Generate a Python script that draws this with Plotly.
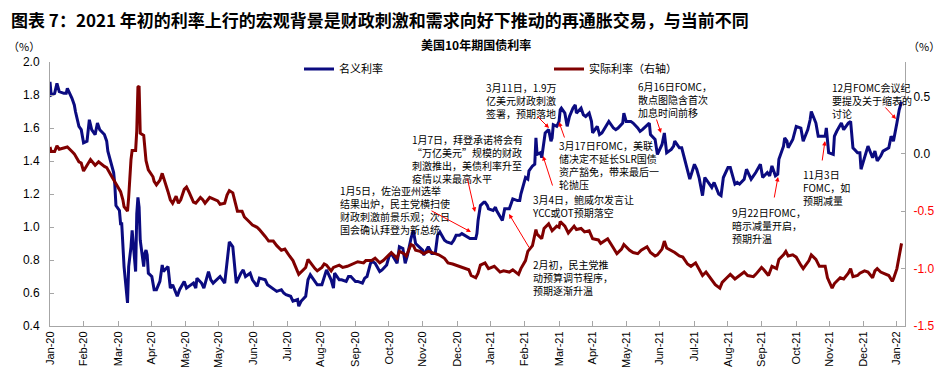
import plotly.graph_objects as go
from datetime import date, timedelta

# ---------------- data ----------------
nominal_dates = [
    "2020-01-02","2020-01-03","2020-01-06","2020-01-08","2020-01-10","2020-01-14","2020-01-16","2020-01-17",
    "2020-01-21","2020-01-23","2020-01-24","2020-01-27","2020-01-29","2020-01-31","2020-02-03","2020-02-05",
    "2020-02-07","2020-02-10","2020-02-12","2020-02-14","2020-02-18","2020-02-20","2020-02-21","2020-02-24",
    "2020-02-26","2020-02-27","2020-02-28","2020-03-02","2020-03-03","2020-03-04","2020-03-05","2020-03-06",
    "2020-03-09","2020-03-10","2020-03-11","2020-03-12","2020-03-13","2020-03-16","2020-03-17","2020-03-18",
    "2020-03-19","2020-03-20","2020-03-23","2020-03-24","2020-03-25","2020-03-26","2020-03-27","2020-03-30",
    "2020-04-01","2020-04-03","2020-04-06","2020-04-08","2020-04-09","2020-04-13","2020-04-15","2020-04-17",
    "2020-04-21","2020-04-23","2020-04-27","2020-04-29","2020-05-01","2020-05-05","2020-05-07","2020-05-08",
    "2020-05-12","2020-05-14","2020-05-18","2020-05-20","2020-05-22","2020-05-26","2020-05-28","2020-06-01",
    "2020-06-03","2020-06-05","2020-06-08","2020-06-10","2020-06-11","2020-06-15","2020-06-17","2020-06-19",
    "2020-06-23","2020-06-25","2020-06-29","2020-07-01","2020-07-06","2020-07-08","2020-07-10","2020-07-14",
    "2020-07-16","2020-07-20","2020-07-22","2020-07-24","2020-07-28","2020-07-30","2020-08-03","2020-08-04",
    "2020-08-06","2020-08-10","2020-08-12","2020-08-14","2020-08-18","2020-08-20","2020-08-24","2020-08-26",
    "2020-08-28","2020-09-01","2020-09-03","2020-09-04","2020-09-08","2020-09-10","2020-09-14","2020-09-16",
    "2020-09-18","2020-09-22","2020-09-24","2020-09-28","2020-09-30","2020-10-02","2020-10-05","2020-10-07",
    "2020-10-09","2020-10-13","2020-10-15","2020-10-19","2020-10-21","2020-10-23","2020-10-26","2020-10-28",
    "2020-10-30","2020-11-02","2020-11-04","2020-11-06","2020-11-09","2020-11-11","2020-11-13","2020-11-17",
    "2020-11-19","2020-11-20","2020-11-24","2020-11-27","2020-11-30","2020-12-02","2020-12-04","2020-12-08",
    "2020-12-10","2020-12-14","2020-12-16","2020-12-18","2020-12-21","2020-12-23","2020-12-28","2020-12-30",
    "2021-01-04","2021-01-05","2021-01-06","2021-01-07","2021-01-08","2021-01-11","2021-01-12","2021-01-14",
    "2021-01-15","2021-01-19","2021-01-21","2021-01-22","2021-01-26","2021-01-27","2021-01-29","2021-02-02",
    "2021-02-04","2021-02-05","2021-02-09","2021-02-11","2021-02-12","2021-02-16","2021-02-18","2021-02-19",
    "2021-02-22","2021-02-24","2021-02-25","2021-02-26","2021-03-01","2021-03-02","2021-03-03","2021-03-04",
    "2021-03-05","2021-03-08","2021-03-10","2021-03-11","2021-03-12","2021-03-15","2021-03-17","2021-03-18",
    "2021-03-19","2021-03-22","2021-03-24","2021-03-26","2021-03-29","2021-03-31","2021-04-01","2021-04-05",
    "2021-04-07","2021-04-09","2021-04-12","2021-04-14","2021-04-15","2021-04-19","2021-04-21","2021-04-23",
    "2021-04-27","2021-04-29","2021-05-03","2021-05-05","2021-05-07","2021-05-11","2021-05-12","2021-05-14",
    "2021-05-18","2021-05-20","2021-05-24","2021-05-26","2021-05-28","2021-06-01","2021-06-03","2021-06-04",
    "2021-06-08","2021-06-10","2021-06-14","2021-06-16","2021-06-18","2021-06-22","2021-06-24","2021-06-25",
    "2021-06-29","2021-07-01","2021-07-06","2021-07-08","2021-07-12","2021-07-14","2021-07-16","2021-07-19",
    "2021-07-21","2021-07-23","2021-07-27","2021-07-29","2021-08-02","2021-08-04","2021-08-06","2021-08-10",
    "2021-08-12","2021-08-16","2021-08-18","2021-08-20","2021-08-24","2021-08-26","2021-08-30","2021-09-01",
    "2021-09-03","2021-09-07","2021-09-09","2021-09-13","2021-09-15","2021-09-17","2021-09-20","2021-09-22",
    "2021-09-23","2021-09-27","2021-09-28","2021-09-30","2021-10-01","2021-10-05","2021-10-08","2021-10-12",
    "2021-10-14","2021-10-18","2021-10-20","2021-10-21","2021-10-25","2021-10-27","2021-10-29","2021-11-02",
    "2021-11-03","2021-11-05","2021-11-09","2021-11-10","2021-11-12","2021-11-16","2021-11-18","2021-11-22",
    "2021-11-24","2021-11-26","2021-11-30","2021-12-02","2021-12-03","2021-12-07","2021-12-09","2021-12-13",
    "2021-12-15","2021-12-17","2021-12-20","2021-12-22","2021-12-27","2021-12-29","2021-12-31","2022-01-03",
    "2022-01-05","2022-01-07",
]
nominal_values = [
    1.88,1.80,1.81,1.87,1.82,1.81,1.81,1.84,
    1.78,1.74,1.70,1.61,1.59,1.51,1.52,1.65,
    1.59,1.56,1.63,1.59,1.56,1.52,1.46,1.38,
    1.33,1.26,1.13,1.10,1.02,1.02,0.92,0.76,
    0.54,0.76,0.82,0.88,0.98,0.73,1.08,1.18,
    1.12,0.92,0.76,0.84,0.86,0.83,0.72,0.70,
    0.62,0.62,0.67,0.77,0.73,0.76,0.63,0.65,
    0.58,0.62,0.67,0.63,0.64,0.66,0.63,0.69,
    0.66,0.63,0.73,0.68,0.66,0.69,0.70,0.66,
    0.77,0.91,0.88,0.75,0.66,0.72,0.74,0.70,
    0.72,0.68,0.64,0.69,0.68,0.65,0.64,0.62,
    0.61,0.62,0.60,0.59,0.58,0.55,0.56,0.52,
    0.55,0.58,0.68,0.71,0.67,0.65,0.65,0.69,
    0.74,0.68,0.63,0.72,0.68,0.68,0.67,0.70,
    0.70,0.67,0.67,0.66,0.69,0.70,0.78,0.79,
    0.78,0.73,0.74,0.77,0.82,0.84,0.80,0.78,
    0.88,0.87,0.78,0.83,0.93,0.98,0.90,0.87,
    0.86,0.83,0.88,0.84,0.84,0.95,0.97,0.92,
    0.91,0.90,0.92,0.95,0.95,0.96,0.94,0.93,
    0.93,0.96,1.04,1.08,1.13,1.15,1.15,1.13,
    1.11,1.10,1.12,1.10,1.05,1.04,1.11,1.11,
    1.15,1.17,1.16,1.16,1.20,1.30,1.29,1.34,
    1.37,1.38,1.54,1.44,1.45,1.42,1.47,1.54,
    1.57,1.59,1.52,1.54,1.62,1.61,1.64,1.71,
    1.72,1.69,1.61,1.67,1.72,1.74,1.69,1.72,
    1.68,1.67,1.69,1.64,1.57,1.61,1.56,1.57,
    1.62,1.64,1.60,1.59,1.60,1.63,1.69,1.64,
    1.64,1.63,1.60,1.58,1.59,1.62,1.63,1.56,
    1.53,1.44,1.50,1.57,1.45,1.47,1.49,1.52,
    1.48,1.48,1.35,1.29,1.38,1.35,1.30,1.19,
    1.30,1.28,1.24,1.27,1.20,1.19,1.30,1.36,
    1.36,1.26,1.27,1.26,1.29,1.35,1.29,1.31,
    1.33,1.38,1.30,1.33,1.31,1.37,1.31,1.32,
    1.41,1.49,1.54,1.52,1.48,1.53,1.61,1.60,
    1.52,1.59,1.65,1.70,1.63,1.55,1.55,1.55,
    1.60,1.45,1.44,1.55,1.58,1.63,1.59,1.63,
    1.64,1.48,1.45,1.45,1.35,1.44,1.49,1.42,
    1.46,1.40,1.43,1.46,1.48,1.55,1.52,1.63,
    1.71,1.76,
]

real_dates = [
    "2020-01-02","2020-01-03","2020-01-06","2020-01-08","2020-01-10","2020-01-14","2020-01-17","2020-01-21",
    "2020-01-23","2020-01-27","2020-01-29","2020-01-31","2020-02-04","2020-02-06","2020-02-10","2020-02-13",
    "2020-02-18","2020-02-20","2020-02-24","2020-02-26","2020-02-28","2020-03-03","2020-03-05","2020-03-06",
    "2020-03-09","2020-03-10","2020-03-11","2020-03-12","2020-03-13","2020-03-16","2020-03-17","2020-03-18",
    "2020-03-19","2020-03-20","2020-03-23","2020-03-24","2020-03-25","2020-03-27","2020-03-31","2020-04-01",
    "2020-04-03","2020-04-06","2020-04-08","2020-04-13","2020-04-15","2020-04-17","2020-04-20","2020-04-22",
    "2020-04-24","2020-04-27","2020-04-29","2020-05-01","2020-05-05","2020-05-07","2020-05-11","2020-05-13",
    "2020-05-15","2020-05-19","2020-05-21","2020-05-26","2020-05-28","2020-06-01","2020-06-03","2020-06-05",
    "2020-06-08","2020-06-10","2020-06-12","2020-06-16","2020-06-18","2020-06-22","2020-06-25","2020-06-29",
    "2020-07-01","2020-07-06","2020-07-09","2020-07-13","2020-07-16","2020-07-20","2020-07-23","2020-07-27",
    "2020-07-30","2020-08-04","2020-08-06","2020-08-10","2020-08-12","2020-08-14","2020-08-18","2020-08-20",
    "2020-08-24","2020-08-26","2020-08-28","2020-09-01","2020-09-03","2020-09-08","2020-09-11","2020-09-15",
    "2020-09-17","2020-09-22","2020-09-24","2020-09-29","2020-10-01","2020-10-06","2020-10-09","2020-10-13",
    "2020-10-16","2020-10-21","2020-10-23","2020-10-28","2020-10-30","2020-11-03","2020-11-05","2020-11-09",
    "2020-11-11","2020-11-13","2020-11-17","2020-11-20","2020-11-24","2020-11-30","2020-12-03","2020-12-08",
    "2020-12-11","2020-12-15","2020-12-18","2020-12-22","2020-12-29","2020-12-31","2021-01-04","2021-01-06",
    "2021-01-08","2021-01-12","2021-01-15","2021-01-20","2021-01-25","2021-01-28","2021-02-02","2021-02-05",
    "2021-02-10","2021-02-12","2021-02-16","2021-02-18","2021-02-22","2021-02-25","2021-02-26","2021-03-02",
    "2021-03-04","2021-03-08","2021-03-11","2021-03-15","2021-03-17","2021-03-18","2021-03-22","2021-03-25",
    "2021-03-30","2021-04-01","2021-04-05","2021-04-08","2021-04-12","2021-04-15","2021-04-20","2021-04-22",
    "2021-04-26","2021-04-28","2021-05-03","2021-05-06","2021-05-10","2021-05-12","2021-05-17","2021-05-20",
    "2021-05-24","2021-05-27","2021-06-01","2021-06-04","2021-06-08","2021-06-10","2021-06-14","2021-06-16",
    "2021-06-18","2021-06-22","2021-06-25","2021-06-29","2021-07-02","2021-07-06","2021-07-09","2021-07-13",
    "2021-07-16","2021-07-19","2021-07-22","2021-07-27","2021-07-30","2021-08-03","2021-08-05","2021-08-09",
    "2021-08-12","2021-08-16","2021-08-19","2021-08-24","2021-08-27","2021-09-01","2021-09-03","2021-09-08",
    "2021-09-10","2021-09-14","2021-09-17","2021-09-21","2021-09-23","2021-09-27","2021-09-29","2021-10-01",
    "2021-10-05","2021-10-08","2021-10-12","2021-10-14","2021-10-19","2021-10-21","2021-10-25","2021-10-28",
    "2021-11-02","2021-11-04","2021-11-08","2021-11-10","2021-11-15","2021-11-18","2021-11-22","2021-11-24",
    "2021-11-26","2021-11-30","2021-12-02","2021-12-06","2021-12-09","2021-12-13","2021-12-15","2021-12-17",
    "2021-12-20","2021-12-23","2021-12-27","2021-12-30","2021-12-31","2022-01-03","2022-01-05","2022-01-07",
]
real_values = [
    0.06,0.02,0.02,0.07,0.04,0.05,0.06,0.02,
    0.00,-0.07,-0.08,-0.15,-0.08,-0.05,-0.10,-0.07,
    -0.11,-0.12,-0.19,-0.22,-0.26,-0.33,-0.40,-0.46,
    -0.50,-0.38,-0.20,-0.05,0.03,0.03,0.20,0.58,
    0.59,0.18,0.16,0.07,-0.06,-0.14,-0.20,-0.24,
    -0.27,-0.23,-0.17,-0.33,-0.40,-0.43,-0.37,-0.43,
    -0.40,-0.31,-0.29,-0.33,-0.42,-0.43,-0.38,-0.40,
    -0.43,-0.38,-0.39,-0.41,-0.44,-0.43,-0.36,-0.32,
    -0.34,-0.43,-0.50,-0.50,-0.55,-0.59,-0.62,-0.64,
    -0.66,-0.72,-0.76,-0.76,-0.80,-0.84,-0.83,-0.89,
    -0.93,-1.05,-1.03,-0.99,-0.92,-0.95,-1.00,-1.02,
    -0.99,-0.96,-0.97,-1.02,-0.99,-0.97,-0.99,-0.98,
    -0.97,-0.95,-0.94,-0.95,-0.93,-0.93,-0.91,-0.95,
    -0.93,-0.88,-0.86,-0.91,-0.85,-0.87,-0.89,-0.79,
    -0.80,-0.84,-0.85,-0.87,-0.85,-0.87,-0.88,-0.91,
    -0.95,-0.96,-0.97,-0.99,-1.01,-1.06,-1.08,-1.04,
    -0.97,-0.95,-1.00,-0.98,-1.03,-1.02,-1.03,-1.01,
    -1.05,-1.00,-0.93,-0.85,-0.80,-0.66,-0.70,-0.74,
    -0.65,-0.61,-0.67,-0.63,-0.64,-0.59,-0.63,-0.69,
    -0.63,-0.66,-0.65,-0.68,-0.67,-0.74,-0.75,-0.78,
    -0.75,-0.74,-0.82,-0.87,-0.83,-0.79,-0.84,-0.86,
    -0.87,-0.84,-0.81,-0.86,-0.89,-0.88,-0.83,-0.76,
    -0.82,-0.84,-0.86,-0.89,-0.90,-0.96,-0.98,-0.95,
    -1.01,-1.06,-1.03,-1.10,-1.14,-1.17,-1.12,-1.08,
    -1.05,-1.09,-1.07,-1.03,-1.06,-1.07,-1.05,-0.99,
    -1.01,-1.06,-0.98,-1.00,-0.92,-0.88,-0.85,-0.89,
    -0.88,-0.90,-0.97,-1.00,-0.93,-0.88,-0.92,-0.98,
    -0.98,-1.08,-1.17,-1.13,-1.08,-1.09,-1.04,-1.00,
    -1.07,-1.06,-1.04,-1.02,-1.03,-1.08,-1.02,-1.00,
    -1.03,-1.04,-1.06,-1.11,-1.09,-1.00,-0.88,-0.78,
]

x_tick_labels = [
    "Jan-20","Feb-20","Mar-20","Apr-20","May-20","May-20","Jun-20","Jul-20","Aug-20",
    "Sep-20","Oct-20","Nov-20","Dec-20","Jan-21","Feb-21","Mar-21","Apr-21","May-21",
    "Jun-21","Jul-21","Aug-21","Sep-21","Oct-21","Nov-21","Dec-21","Jan-22",
]
left_ticks = [0.4, 0.6, 0.8, 1.0, 1.2, 1.4, 1.6, 1.8, 2.0]
right_ticks = [0.5, 0.0, -0.5, -1.0, -1.5]

series_names = ["名义利率", "实际利率（右轴）"]
chart_title = "美国10年期国债利率"
main_title = "图表 7：2021 年初的利率上行的宏观背景是财政刺激和需求向好下推动的再通胀交易，与当前不同"

notes = [
    "1月5日，佐治亚州选举<br>结果出炉，民主党横扫使<br>财政刺激前景乐观；次日<br>国会确认拜登为新总统",
    "1月7日，拜登承诺将会有<br>“万亿美元”规模的财政<br>刺激推出，美债利率升至<br>疫情以来最高水平",
    "3月11日，1.9万<br>亿美元财政刺激<br>签署，预期落地",
    "3月17日FOMC，美联<br>储决定不延长SLR国债<br>资产豁免，带来最后一<br>轮抛压",
    "3月4日，鲍威尔发言让<br>YCC或OT预期落空",
    "2月初，民主党推<br>动预算调节程序，<br>预期逐渐升温",
    "6月16日FOMC，<br>散点图隐含首次<br>加息时间前移",
    "9月22日FOMC，<br>暗示减量开启，<br>预期升温",
    "11月3日<br>FOMC，如<br>预期减量",
    "12月FOMC会议纪<br>要提及关于缩表的<br>讨论",
]

# ---------------- layout geometry (page pixels) ----------------
PAGE_W, PAGE_H = 943, 380
OFF = 8                        # default page margin around the plot div
W, H = PAGE_W - OFF, PAGE_H - OFF
PL, PR, PT, PB = 50, 905, 62, 326   # plot area edges in page pixels
PW, PH = PR - PL, PB - PT

def px(x):
    return (x - PL) / PW

def py(y):
    return (PB - y) / PH

note_pos = [(338, 181), (410, 130), (484, 78), (557, 136), (530, 190),
            (531, 255), (636, 77), (730, 203), (801, 165), (830, 78)]
arrows = [((430, 210), (471, 232)), ((467, 177), (475, 212)), ((536, 115), (549, 128)),
          ((565, 139), (559, 122)), ((553, 187), (543, 156)), ((530, 249), (509, 214)),
          ((656, 118), (661, 133)), ((774, 199), (778, 177)), ((822, 162), (825, 141)),
          ((884, 106), (896, 119))]

start = date(2020, 1, 2)
tickvals = [(start + timedelta(days=round(i * 29.3))).isoformat() for i in range(len(x_tick_labels))]

cjk = "Noto Sans CJK SC"
latin = "Liberation Sans, Arial, sans-serif"
axis_grey = "#a6a6a6"

fig = go.Figure()
fig.add_trace(go.Scatter(x=nominal_dates, y=nominal_values, name=series_names[0], mode="lines",
                         line=dict(color="#0b0b80", width=3)))
fig.add_trace(go.Scatter(x=real_dates, y=real_values, name=series_names[1], mode="lines", yaxis="y2",
                         line=dict(color="#800000", width=3)))

right_text = []
for v in right_ticks:
    s = f"{v:.1f}"
    right_text.append(f'<span style="color:#ff0000">{s}</span>' if v < 0 else s)

fig.update_layout(
    width=W, height=H,
    margin=dict(l=PL - OFF, r=PAGE_W - PR, t=PT - OFF, b=PAGE_H - PB, autoexpand=False),
    paper_bgcolor="white", plot_bgcolor="white",
    font=dict(family=latin, color="black", size=12),
    showlegend=True,
    legend=dict(orientation="h", x=px(299), y=py(69), xanchor="left", yanchor="middle",
                font=dict(family=cjk, size=11), bgcolor="rgba(0,0,0,0)",
                entrywidthmode="pixels", entrywidth=205, itemwidth=30),
    xaxis=dict(type="date", range=["2020-01-02", "2022-01-10"], tickvals=tickvals, ticktext=x_tick_labels,
               tickangle=-90, tickfont=dict(size=11, family=latin), showgrid=False, zeroline=False,
               showline=True, linecolor=axis_grey, linewidth=1, ticks="inside", ticklen=5,
               tickcolor=axis_grey, automargin=False),
    yaxis=dict(range=[0.4, 2.0], tickvals=left_ticks, ticktext=[f"{v:.1f}" for v in left_ticks],
               showgrid=False, zeroline=False, showline=True, linecolor=axis_grey, linewidth=1,
               ticks="inside", ticklen=4, tickcolor=axis_grey, tickfont=dict(size=12),
               ticklabelstandoff=7, automargin=False),
    yaxis2=dict(range=[-1.5, 0.8], overlaying="y", side="right", tickvals=right_ticks, ticktext=right_text,
                showgrid=False, zeroline=False, showline=True, linecolor=axis_grey, linewidth=1,
                ticks="inside", ticklen=4, tickcolor=axis_grey, tickfont=dict(size=12),
                ticklabelstandoff=5, automargin=False),
)

ann = []
ann.append(dict(text=f"<b>{main_title}</b>", x=px(9), y=py(19), xref="paper", yref="paper",
                xanchor="left", yanchor="middle", showarrow=False, font=dict(family=cjk, size=17, color="black")))
ann.append(dict(text=f"<b>{chart_title}</b>", x=px(476), y=py(45), xref="paper", yref="paper",
                xanchor="center", yanchor="middle", showarrow=False, font=dict(family=cjk, size=12, color="black")))
ann.append(dict(text="（%）", x=px(24), y=py(46), xref="paper", yref="paper", xanchor="center",
                yanchor="middle", showarrow=False, font=dict(family=cjk, size=11, color="black")))
ann.append(dict(text="（%）", x=px(924), y=py(46), xref="paper", yref="paper", xanchor="center",
                yanchor="middle", showarrow=False, font=dict(family=cjk, size=11, color="black")))
for txt, (lx, ty) in zip(notes, note_pos):
    ann.append(dict(text=txt, x=px(lx), y=py(ty), xref="paper", yref="paper", xanchor="left", yanchor="top",
                    align="left", showarrow=False, font=dict(family=cjk, size=10, color="black")))
for (tail, tip) in arrows:
    ann.append(dict(text="", x=px(tip[0]), y=py(tip[1]), xref="paper", yref="paper",
                    ax=tail[0] - tip[0], ay=tail[1] - tip[1], axref="pixel", ayref="pixel",
                    showarrow=True, arrowhead=2, arrowsize=0.9, arrowwidth=1, arrowcolor="#ff0000"))
fig.update_layout(annotations=ann)

fig.write_html("out.html")
